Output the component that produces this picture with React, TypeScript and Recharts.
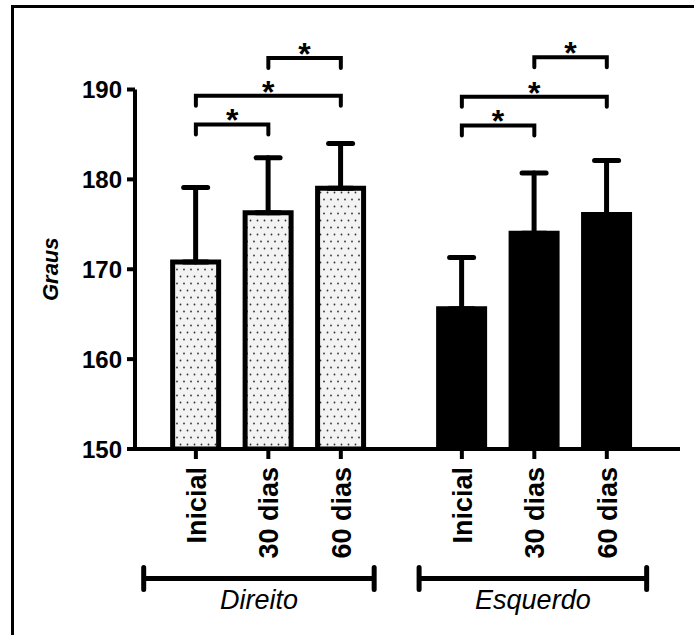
import React from "react"
import {
  Bar,
  BarChart,
  Cell,
  ErrorBar,
  ReferenceLine,
  XAxis,
  YAxis,
} from "recharts"

const categories = ["Inicial", "30 dias", "60 dias", "Inicial", "30 dias", "60 dias"]
const groupOf = ["Direito", "Direito", "Direito", "Esquerdo", "Esquerdo", "Esquerdo"]
// x slot of each bar (the two groups are separated by a wider gap)
const positions = [1, 2, 3, 4.67, 5.67, 6.67]
const means = [170.8, 176.3, 179.0, 165.6, 174.0, 176.1]
const sdUp = [8.3, 6.1, 5.0, 5.7, 6.7, 6.0]
const yTicks = [150, 160, 170, 180, 190]

// significance brackets: [from bar, to bar, level in degrees]
const brackets: [number, number, number][] = [
  [0, 1, 186.1],
  [0, 2, 189.3],
  [1, 2, 193.5],
  [3, 4, 186.0],
  [3, 5, 189.2],
  [4, 5, 193.6],
]

const groupNames = ["Direito", "Esquerdo"]
const groupSpans: [number, number][] = [
  [0.28, 3.46],
  [4.08, 7.22],
]
const groupLineLevel = 135.6

const data = categories.map((c, i) => ({
  pos: positions[i],
  name: c,
  group: groupOf[i],
  mean: means[i],
  err: [0, sdUp[i]],
}))

const FONT = "'Liberation Sans', Arial, Helvetica, sans-serif"

const XTick = (props: any) => {
  const { x, y, payload } = props
  const i = positions.indexOf(payload.value)
  const fs = 27
  return (
    <text
      transform={`translate(${x + fs * 0.36},${y}) rotate(-90)`}
      textAnchor="end"
      fontFamily={FONT}
      fontWeight={700}
      fontSize={fs}
      fill="#000"
    >
      {categories[i]}
    </text>
  )
}

const Bracket = (p: any) => {
  const { x1, y1, x2 } = p
  const fs = 32
  return (
    <g>
      <path
        d={`M${x1},${y1 + 10}V${y1}H${x2}V${y1 + 10}`}
        fill="none"
        stroke="#000"
        strokeWidth={4}
        strokeLinecap="round"
      />
      <text
        x={(x1 + x2) / 2}
        y={y1 - 11 + fs * 0.56}
        textAnchor="middle"
        fontFamily={FONT}
        fontWeight={700}
        fontSize={fs}
        fill="#000"
      >
        *
      </text>
    </g>
  )
}

const GroupBar = (name: string) => (p: any) => {
  const { x1, y1, x2 } = p
  return (
    <g>
      <path
        d={`M${x1},${y1}H${x2}M${x1},${y1 - 11}V${y1 + 11}M${x2},${y1 - 11}V${y1 + 11}`}
        fill="none"
        stroke="#000"
        strokeWidth={5}
        strokeLinecap="round"
      />
      <text
        x={(x1 + x2) / 2}
        y={y1 + 31}
        textAnchor="middle"
        fontFamily={FONT}
        fontStyle="italic"
        fontSize={27}
        fill="#000"
      >
        {name}
      </text>
    </g>
  )
}

const YLabel = (props: any) => {
  const vb = props.viewBox || { x: 0, y: 0, width: 0, height: 0 }
  const cy = vb.y + vb.height / 2
  return (
    <text
      transform={`translate(${vb.x + 58},${cy}) rotate(-90)`}
      textAnchor="middle"
      fontFamily={FONT}
      fontWeight={700}
      fontStyle="italic"
      fontSize={22}
      fill="#000"
    >
      Graus
    </text>
  )
}

export default function App() {
  return (
    <div
      style={{
        position: "absolute",
        left: 0,
        top: 0,
        width: 694,
        height: 635,
        background: "#fff",
      }}
    >
      <div
        style={{
          position: "absolute",
          left: 11,
          top: 5,
          right: 0,
          bottom: 0,
          borderLeft: "3px solid #000",
          borderTop: "3px solid #000",
        }}
      />
      <div style={{ position: "absolute", left: 0, top: 0 }}>
        <BarChart
          width={694}
          height={635}
          data={data}
          margin={{ top: 89.5, right: 14, bottom: 0, left: 0 }}
        >
          <defs>
            <pattern id="dots" width="7" height="14" patternUnits="userSpaceOnUse">
              <rect width="7" height="14" fill="#f3f3f3" />
              <circle cx="2" cy="3.5" r="0.9" fill="#333" />
              <circle cx="5.5" cy="10.5" r="0.9" fill="#333" />
            </pattern>
          </defs>
          <XAxis
            dataKey="pos"
            type="number"
            domain={[0.16, 7.68]}
            allowDataOverflow
            ticks={positions}
            interval={0}
            height={186}
            tick={<XTick />}
            tickSize={10}
            tickMargin={8}
            axisLine={{ stroke: "#000", strokeWidth: 4 }}
            tickLine={{ stroke: "#000", strokeWidth: 4 }}
          />
          <YAxis
            type="number"
            domain={[150, 190]}
            allowDataOverflow
            ticks={yTicks}
            width={135}
            tickSize={8}
            tickMargin={5}
            axisLine={{ stroke: "#000", strokeWidth: 4 }}
            tickLine={{ stroke: "#000", strokeWidth: 4 }}
            tick={{ fill: "#000", fontSize: 24, fontWeight: 700, fontFamily: FONT }}
            label={{ content: <YLabel /> }}
          />
          <Bar
            dataKey="mean"
            barSize={46}
            stroke="#000"
            strokeWidth={5}
            isAnimationActive={false}
          >
            {data.map((d, i) => (
              <Cell key={i} fill={d.group === "Direito" ? "url(#dots)" : "#000"} />
            ))}
            <ErrorBar
              dataKey="err"
              direction="y"
              width={12}
              stroke="#000"
              strokeWidth={5}
              strokeLinecap="round"
              isAnimationActive={false}
            />
          </Bar>
          {brackets.map(([a, b, lvl], i) => (
            <ReferenceLine
              key={"br" + i}
              segment={[
                { x: positions[a], y: lvl },
                { x: positions[b], y: lvl },
              ]}
              ifOverflow="visible"
              shape={Bracket}
            />
          ))}
          {groupSpans.map(([a, b], i) => (
            <ReferenceLine
              key={"gr" + i}
              segment={[
                { x: a, y: groupLineLevel },
                { x: b, y: groupLineLevel },
              ]}
              ifOverflow="visible"
              shape={GroupBar(groupNames[i])}
            />
          ))}
        </BarChart>
      </div>
    </div>
  )
}
